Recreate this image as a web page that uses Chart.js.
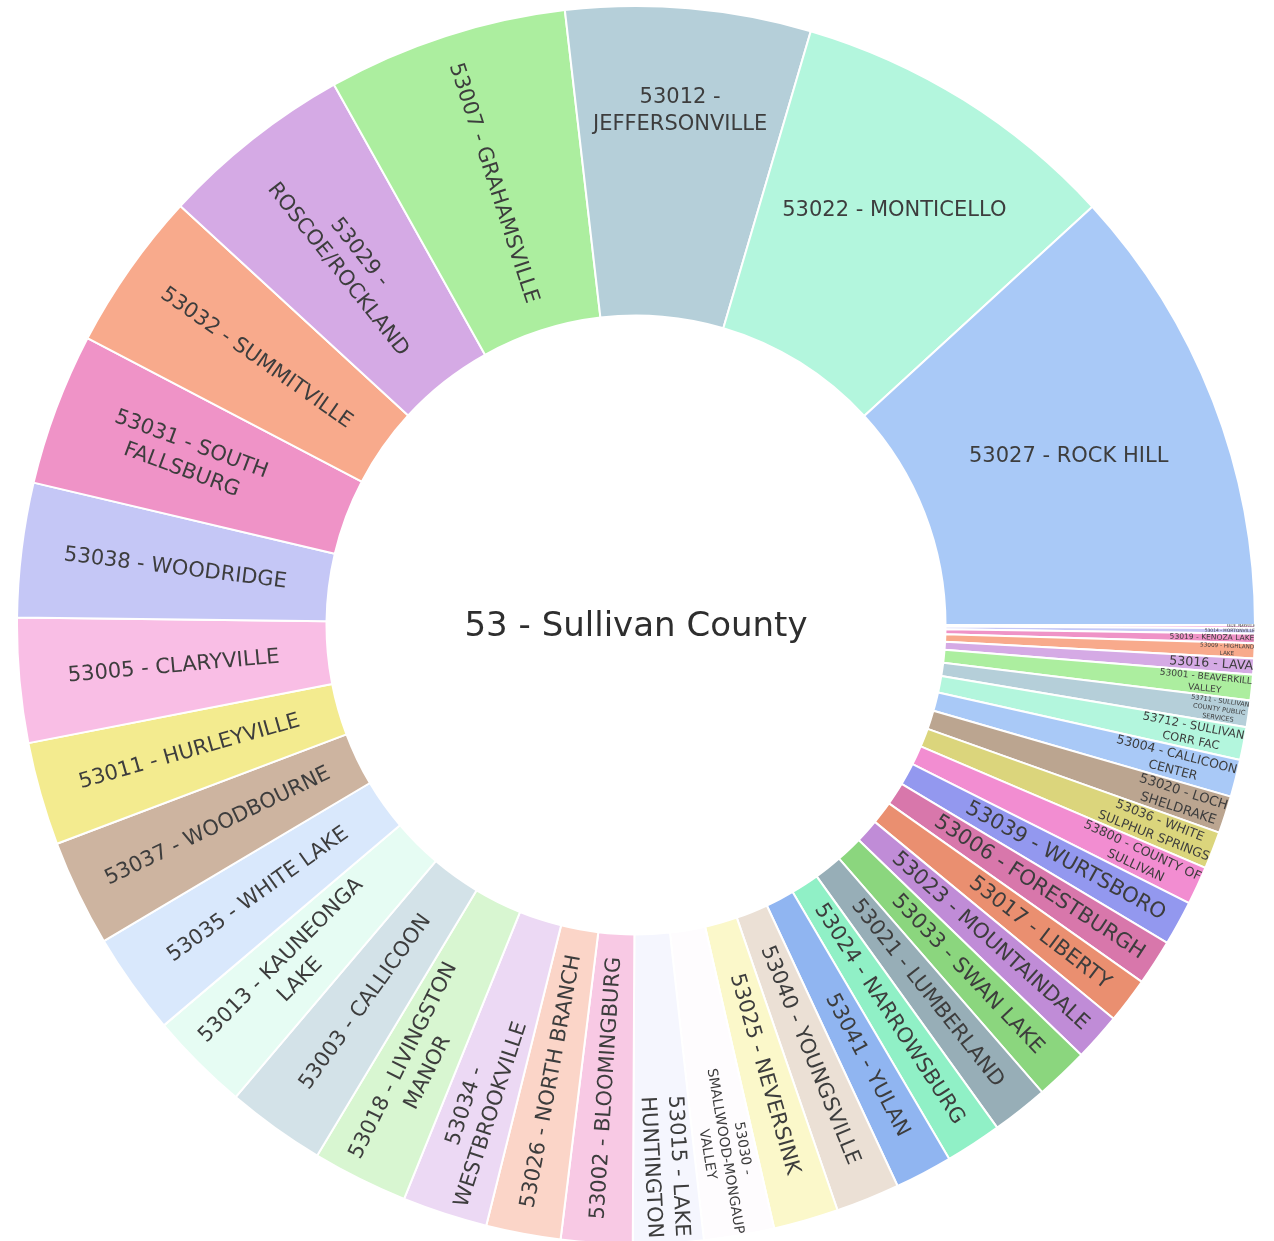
<!DOCTYPE html>
<html>
<head>
<meta charset="utf-8">
<title>53 - Sullivan County</title>
<script src="https://cdn.jsdelivr.net/npm/chart.js@4.4.1/dist/chart.umd.min.js"></script>
<style>
  html, body { margin: 0; padding: 0; background: #ffffff; overflow: hidden; }
  #wrap { position: absolute; left: 16px; top: 5px; width: 1240px; height: 1240px; }
</style>
</head>
<body>
<div id="wrap"><canvas id="ring" width="1240" height="1240"></canvas></div>
<script>
// Root node shown in the hole
const rootLabel = '53 - Sullivan County';

// Districts, largest first (laid out counter-clockwise from 3 o'clock)
const districts = [
  '53027 - ROCK HILL',
  '53022 - MONTICELLO',
  '53012 - JEFFERSONVILLE',
  '53007 - GRAHAMSVILLE',
  '53029 - ROSCOE/ROCKLAND',
  '53032 - SUMMITVILLE',
  '53031 - SOUTH FALLSBURG',
  '53038 - WOODRIDGE',
  '53005 - CLARYVILLE',
  '53011 - HURLEYVILLE',
  '53037 - WOODBOURNE',
  '53035 - WHITE LAKE',
  '53013 - KAUNEONGA LAKE',
  '53003 - CALLICOON',
  '53018 - LIVINGSTON MANOR',
  '53034 - WESTBROOKVILLE',
  '53026 - NORTH BRANCH',
  '53002 - BLOOMINGBURG',
  '53015 - LAKE HUNTINGTON',
  '53030 - SMALLWOOD-MONGAUP VALLEY',
  '53025 - NEVERSINK',
  '53040 - YOUNGSVILLE',
  '53041 - YULAN',
  '53024 - NARROWSBURG',
  '53021 - LUMBERLAND',
  '53033 - SWAN LAKE',
  '53023 - MOUNTAINDALE',
  '53017 - LIBERTY',
  '53006 - FORESTBURGH',
  '53039 - WURTSBORO',
  '53800 - COUNTY OF SULLIVAN',
  '53036 - WHITE SULPHUR SPRINGS',
  '53020 - LOCH SHELDRAKE',
  '53004 - CALLICOON CENTER',
  '53712 - SULLIVAN CORR FAC',
  '53711 - SULLIVAN COUNTY PUBLIC SERVICES',
  '53001 - BEAVERKILL VALLEY',
  '53016 - LAVA',
  '53009 - HIGHLAND LAKE',
  '53019 - KENOZA LAKE',
  '53014 - HORTONVILLE',
  '53028 - PARKSVILLE'
];

// Relative size of each district (same order)
const shares = [
  425, 311, 230, 226, 182, 150, 143, 126, 117, 97,
  100, 96, 94, 93, 90, 80, 70, 67, 66, 66,
  61, 60, 54, 53, 53, 50, 45, 43, 43, 42,
  36, 35, 35, 35, 31, 25, 24, 15, 14, 9,
  5, 3
];

// Slice fills (same order)
const palette = [
  '#a9c9f7', '#b3f6dd', '#b5cfd9', '#acee9f', '#d5aae5', '#f8aa8c', '#ef93c7', '#c5c7f6', '#f9bee5', '#f3eb8f', '#cdb4a0',
  '#d9e8fc', '#e6fcf3', '#d3e2e8', '#d8f6d1', '#ecd9f4', '#fbd5c8', '#f8c9e4', '#f5f6fe', '#fefcfe', '#fbf8ca', '#ebe0d5',
  '#90b5f1', '#90f0c6', '#97aeb7', '#8bd67e', '#c08cd7', '#ea8f70', '#d877ab', '#9398ef', '#f28dd1', '#dbd57c', '#bba590',
  '#a9c9f7', '#b3f6dd', '#b5cfd9', '#acee9f', '#d5aae5', '#f8aa8c', '#ef93c7', '#c5c7f6', '#f9bee5'
];

const FONT = '"DejaVu Sans", Verdana, sans-serif';
const BASE_SIZE = 21;
const ROOT_SIZE = 34;
const TEXT_COLOR = '#3d3d3d';
const LINE_SPACING = 1.3;
const TEXTPAD = 3;
const WRAP_WIDTH = 20;

// Greedy word wrap of a label into lines of at most `width` characters
function wrapLabel(text, width) {
  const words = text.split(' ');
  const lines = [];
  let cur = '';
  words.forEach(w => {
    if (!cur) cur = w;
    else if ((cur + ' ' + w).length <= width) cur += ' ' + w;
    else { lines.push(cur); cur = w; }
  });
  if (cur) lines.push(cur);
  return lines;
}

// Chart.js sweeps clockwise, so feed the slices in reverse
const order = districts.map((_, i) => districts.length - 1 - i);
const drawLabels = order.map(i => districts[i]);
const drawValues = order.map(i => shares[i]);
const drawColors = order.map(i => palette[i]);
const drawLines = drawLabels.map(l => wrapLabel(l, WRAP_WIDTH));

function calcRCenter(a, b) { return Math.cos(b) - a * b; }
function calcMaxHalfSize(a, halfAngle, r, ring) {
  const q = a + 1 / (2 * Math.tan(halfAngle));
  return r * Math.min(
    1 / (Math.sqrt(q * q + 0.5) + q),
    ring / (Math.sqrt(a * a + ring / 2) + a)
  );
}
function readable(deg) { return ((((deg + 90) % 180) + 180) % 180) - 90; }
const toDeg = rad => rad * 180 / Math.PI;

// Fits each label inside its slice: upright if it fits at full size,
// otherwise the better of tangential / radial, shrunk as needed.
const sliceLabels = {
  id: 'sliceLabels',
  afterDatasetsDraw(chart) {
    const ctx = chart.ctx;
    const meta = chart.getDatasetMeta(0);
    ctx.save();
    ctx.font = BASE_SIZE + 'px ' + FONT;
    ctx.fillStyle = TEXT_COLOR;
    ctx.textAlign = 'center';
    ctx.textBaseline = 'middle';
    meta.data.forEach((arc, i) => {
      const p = arc.getProps(['x', 'y', 'startAngle', 'endAngle', 'innerRadius', 'outerRadius'], true);
      const lines = drawLines[i];
      const w = Math.max(...lines.map(l => ctx.measureText(l).width));
      const h = BASE_SIZE * (1.1 + LINE_SPACING * (lines.length - 1));
      const half = 0.5 * Math.min(p.endAngle - p.startAngle, Math.PI);
      const mid = (p.startAngle + p.endAngle) / 2;
      const r = p.outerRadius;
      const ring = 1 - p.innerRadius / p.outerRadius;

      const rIns = Math.min(1 / (1 + 1 / Math.sin(half)), ring / 2);
      const horiz = { scale: rIns * r * 2 / Math.hypot(w, h), rc: (1 - rIns) * r, rot: 0 };
      let t = horiz;
      if (horiz.scale < 1) {
        const rp = Math.max(0, r - 2 * TEXTPAD);
        const aT = h / w;
        const sT = calcMaxHalfSize(aT, half, rp, ring);
        const tan = { scale: sT * 2 / w, rc: calcRCenter(aT, sT / rp) * r, rot: readable(toDeg(mid) + 90) };
        const aR = w / h;
        const sR = calcMaxHalfSize(aR, half, rp, ring);
        const rad = { scale: sR * 2 / h, rc: calcRCenter(aR, sR / rp) * r, rot: readable(toDeg(mid)) };
        [tan, rad].forEach(c => { if (c.scale > t.scale) t = c; });
      }
      const s = Math.min(1, t.scale);
      ctx.save();
      ctx.translate(p.x + t.rc * Math.cos(mid), p.y + t.rc * Math.sin(mid));
      ctx.rotate(t.rot * Math.PI / 180);
      ctx.scale(s, s);
      lines.forEach((ln, k) => {
        ctx.fillText(ln, 0, (k - (lines.length - 1) / 2) * BASE_SIZE * LINE_SPACING);
      });
      ctx.restore();
    });

    // Root label in the hole
    const c0 = meta.data[0];
    ctx.font = ROOT_SIZE + 'px ' + FONT;
    ctx.fillStyle = '#2e2e2e';
    ctx.fillText(rootLabel, c0.x, c0.y + 2);
    ctx.restore();
  }
};

new Chart(document.getElementById('ring'), {
  type: 'doughnut',
  data: {
    labels: drawLabels,
    datasets: [{
      data: drawValues,
      backgroundColor: drawColors,
      borderColor: '#ffffff',
      borderWidth: 2
    }]
  },
  options: {
    responsive: false,
    animation: false,
    rotation: 90,
    cutout: '50%',
    layout: { padding: 0 },
    plugins: {
      legend: { display: false },
      tooltip: { enabled: false },
      title: { display: false }
    }
  },
  plugins: [sliceLabels]
});
</script>
</body>
</html>
